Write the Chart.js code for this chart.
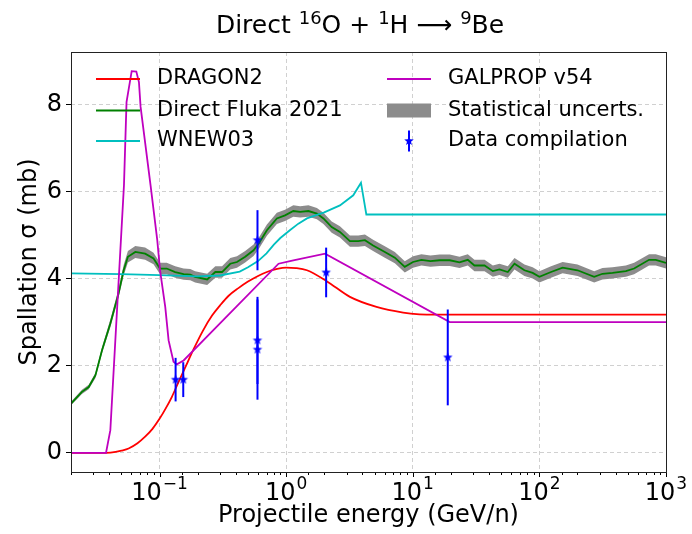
<!DOCTYPE html>
<html>
<head>
<meta charset="utf-8">
<script src="https://cdn.jsdelivr.net/npm/chart.js@4.4.0/dist/chart.umd.min.js"></script>
<style>
  body { margin: 0; background: #fff; }
  #contenedor { position: relative; width: 692px; height: 534px; }
  #titulo {
    position: absolute; left: 0; top: 12px; width: 720px;
    text-align: center; font: 25px 'DejaVu Sans', sans-serif; line-height: 25px; color: #000;
  }
  #titulo sup { font-size: 72%; vertical-align: baseline; position: relative; top: -0.5em; }
</style>
</head>
<body>
<div id="contenedor">
  <canvas id="grafico" width="692" height="534"></canvas>
  <div id="titulo">Direct <sup>16</sup>O + <sup>1</sup>H ⟶ <sup>9</sup>Be</div>
</div>
<script>
// ============================================================
//  Sección eficaz de espalación  16O + 1H -> 9Be
// ============================================================

// ──────────────────────────────────────────
//  DATOS
// ──────────────────────────────────────────
const energiaFluka = [0.02, 0.0244, 0.0276, 0.0312, 0.0352, 0.0409, 0.0475, 0.0521, 0.0563, 0.0644,
  0.077, 0.0897, 0.101, 0.114, 0.133, 0.155, 0.175, 0.191, 0.238, 0.276,
  0.312, 0.362, 0.409, 0.475, 0.553, 0.606, 0.705, 0.845, 0.98, 1.14,
  1.29, 1.5, 1.75, 1.97, 2.29, 2.66, 3.19, 3.71, 4.19, 4.86,
  6.02, 7.22, 8.65, 10.05, 11.7, 13.8, 16.3, 19.6, 23.4, 27.2,
  30.7, 36.9, 42.9, 48.4, 56.3, 63.6, 76.2, 88.5, 100, 123.6,
  152.6, 200, 271, 315, 378, 482, 560, 735, 830, 1000];
const sigmaFluka = [1.13, 1.40, 1.51, 1.78, 2.36, 2.97, 3.66, 4.19, 4.50, 4.61,
  4.57, 4.46, 4.23, 4.23, 4.15, 4.10, 4.09, 4.04, 3.98, 4.15,
  4.15, 4.34, 4.38, 4.50, 4.65, 4.80, 5.11, 5.38, 5.45, 5.55,
  5.53, 5.55, 5.49, 5.38, 5.18, 5.07, 4.86, 4.86, 4.88, 4.76,
  4.61, 4.48, 4.27, 4.38, 4.43, 4.40, 4.42, 4.42, 4.37, 4.43,
  4.30, 4.30, 4.17, 4.21, 4.15, 4.34, 4.19, 4.13, 4.04, 4.15,
  4.25, 4.19, 4.04, 4.11, 4.13, 4.17, 4.23, 4.43, 4.43, 4.36];
const errFluka = [0.04, 0.05, 0.05, 0.06, 0.07, 0.09, 0.10, 0.12, 0.13, 0.14,
  0.14, 0.13, 0.13, 0.13, 0.13, 0.13, 0.13, 0.13, 0.13, 0.13,
  0.13, 0.13, 0.13, 0.13, 0.13, 0.13, 0.13, 0.13, 0.13, 0.13,
  0.13, 0.13, 0.13, 0.13, 0.13, 0.13, 0.13, 0.13, 0.13, 0.13,
  0.13, 0.13, 0.13, 0.13, 0.13, 0.13, 0.13, 0.13, 0.13, 0.13,
  0.13, 0.13, 0.13, 0.13, 0.13, 0.13, 0.13, 0.13, 0.13, 0.13,
  0.13, 0.13, 0.13, 0.13, 0.13, 0.13, 0.13, 0.13, 0.13, 0.13];

const energiaWnew = [0.02, 0.05, 0.1, 0.2, 0.3, 0.43, 0.5, 0.6, 0.7, 0.8, 0.9, 1.07, 1.25, 1.46, 1.75, 2.0, 2.66, 3.39, 3.9, 4.3, 1000];
const sigmaWnew   = [4.12, 4.10, 4.08, 4.05, 4.07, 4.16, 4.26, 4.40, 4.58, 4.78, 4.93, 5.11, 5.26, 5.38, 5.46, 5.52, 5.68, 5.91, 6.20, 5.47, 5.47];

const energiaDragon = [0.02, 0.038, 0.045, 0.05, 0.057, 0.067, 0.077, 0.088, 0.1, 0.112, 0.125, 0.14, 0.159, 0.186, 0.22,
  0.26, 0.3, 0.35, 0.42, 0.5, 0.6, 0.705, 0.85, 1.0, 1.2, 1.46, 2.09, 3.19, 5.17, 8.4, 11.3, 15, 1000];
const sigmaDragon   = [0, 0, 0.02, 0.05, 0.10, 0.22, 0.37, 0.55, 0.78, 1.02, 1.28, 1.6, 1.95, 2.38, 2.8,
  3.15, 3.38, 3.6, 3.78, 3.93, 4.06, 4.15, 4.22, 4.25, 4.24, 4.19, 3.94, 3.58, 3.35, 3.22, 3.18, 3.17, 3.17];

const energiaGalprop = [0.02, 0.0378, 0.0409, 0.0524, 0.0549, 0.0603, 0.0656, 0.0688, 0.0709, 0.085, 0.096, 0.101,
  0.111, 0.118, 0.129, 0.137, 0.155, 0.871, 1.14, 2.03, 19.6, 1000];
const sigmaGalprop   = [0, 0, 0.52, 6.14, 8.05, 8.76, 8.75, 8.51, 7.94, 6.14, 4.88, 4.19,
  3.35, 2.58, 2.09, 2.03, 2.12, 4.34, 4.42, 4.57, 3.00, 3.00];

const energiaDatos = [0.134, 0.154, 0.594, 0.594, 0.594, 2.07, 18.9];
const sigmaDatos   = [1.68, 1.68, 4.88, 2.58, 2.37, 4.14, 2.19];
const errDatos     = [0.50, 0.40, 0.69, 1.00, 1.15, 0.57, 1.10];

const decadasX    = [0.1, 1, 10, 100, 1000];
const exponentesX = ['−1', '0', '1', '2', '3'];

// ──────────────────────────────────────────
//  PALETA (colores de matplotlib)
// ──────────────────────────────────────────
const ROJO    = '#ff0000';
const VERDE   = '#008000';
const CIAN    = '#00bfbf';
const MAGENTA = '#bf00bf';
const AZUL    = '#0000ff';
const GRIS    = '#8c8c8c';
const REJILLA = '#d0d0d0';
const FUENTE  = "'DejaVu Sans', sans-serif";

// HELPER: arrays -> puntos {x, y}
function puntos(xs, ys) {
  return xs.map((x, i) => ({ x, y: ys[i] }));
}

// HELPER: estrella rellena para usar como pointStyle
function estrella(r, color) {
  const c = document.createElement('canvas');
  const s = Math.ceil(r * 2 + 2);
  c.width = c.height = s;
  const g = c.getContext('2d');
  g.fillStyle = color;
  g.beginPath();
  for (let i = 0; i < 10; i++) {
    const rad = i % 2 ? r * 0.42 : r;
    const a = -Math.PI / 2 + i * Math.PI / 5;
    g.lineTo(s / 2 + rad * Math.cos(a), s / 2 + rad * Math.sin(a));
  }
  g.closePath();
  g.fill();
  return c;
}

const STAR = estrella(5, AZUL);

// ──────────────────────────────────────────
//  DATASETS (índice 0 se dibuja encima)
// ──────────────────────────────────────────
const linea = (label, data, color, extra) => Object.assign({
  label, data, borderColor: color, backgroundColor: color,
  borderWidth: 1.8, pointRadius: 0, fill: false, tension: 0
}, extra || {});

const barrasError = energiaDatos.map((e, i) => linea('_err' + i, [
  { x: e, y: sigmaDatos[i] - errDatos[i] },
  { x: e, y: sigmaDatos[i] + errDatos[i] }
], AZUL, { borderWidth: 2 }));

const datasets = [
  { label: 'Data compilation', data: puntos(energiaDatos, sigmaDatos), showLine: false,
    pointStyle: STAR, pointRadius: 5, borderColor: AZUL, backgroundColor: AZUL },
  ...barrasError,
  linea('GALPROP v54', puntos(energiaGalprop, sigmaGalprop), MAGENTA),
  linea('WNEW03', puntos(energiaWnew, sigmaWnew), CIAN),
  linea('Direct Fluka 2021', puntos(energiaFluka, sigmaFluka), VERDE),
  linea('DRAGON2', puntos(energiaDragon, sigmaDragon), ROJO, { cubicInterpolationMode: 'monotone' }),
  linea('_bandaSup', energiaFluka.map((x, i) => ({ x, y: sigmaFluka[i] + errFluka[i] })), GRIS,
    { borderWidth: 0, fill: '+1', backgroundColor: GRIS }),
  linea('_bandaInf', energiaFluka.map((x, i) => ({ x, y: sigmaFluka[i] - errFluka[i] })), GRIS,
    { borderWidth: 0 })
];

// ──────────────────────────────────────────
//  PLUGIN: marco, ticks del eje x y leyenda
// ──────────────────────────────────────────
const decorado = {
  id: 'decorado',
  afterDraw(chart) {
    const { ctx, chartArea: a, scales } = chart;
    ctx.save();

    // ticks del eje x (mayores 5px, menores 3px)
    ctx.strokeStyle = '#000';
    ctx.lineWidth = 1;
    scales.x.ticks.forEach(t => {
      const px = Math.round(scales.x.getPixelForValue(t.value)) + 0.5;
      ctx.beginPath();
      ctx.moveTo(px, a.bottom);
      ctx.lineTo(px, a.bottom + (t.major ? 5 : 3));
      ctx.stroke();
    });

    // etiquetas 10^n con exponente en superíndice
    ctx.fillStyle = '#000';
    ctx.textAlign = 'left';
    ctx.textBaseline = 'alphabetic';
    decadasX.forEach((d, i) => {
      const px = scales.x.getPixelForValue(d);
      ctx.font = '24px ' + FUENTE;
      const w1 = ctx.measureText('10').width;
      ctx.font = '17px ' + FUENTE;
      const w2 = ctx.measureText(exponentesX[i]).width;
      const x0 = px - (w1 + w2 + 1) / 2;
      ctx.font = '24px ' + FUENTE;
      ctx.fillText('10', x0, a.bottom + 28);
      ctx.font = '17px ' + FUENTE;
      ctx.fillText(exponentesX[i], x0 + w1 + 1, a.bottom + 17);
    });

    // marco
    ctx.strokeStyle = '#222';
    ctx.lineWidth = 1;
    ctx.strokeRect(Math.round(a.left) + 0.5, Math.round(a.top) + 0.5,
      Math.round(a.right - a.left), Math.round(a.bottom - a.top));

    // leyenda en dos columnas
    ctx.font = '21px ' + FUENTE;
    ctx.fillStyle = '#000';
    ctx.textBaseline = 'middle';
    const col1 = a.left + 25, col2 = a.left + 316;
    const filas = [a.top + 27, a.top + 58.5, a.top + 89];
    const izq = [['DRAGON2', ROJO], ['Direct Fluka 2021', VERDE], ['WNEW03', CIAN]];
    izq.forEach(([txt, col], i) => {
      ctx.strokeStyle = col;
      ctx.lineWidth = 1.8;
      ctx.beginPath();
      ctx.moveTo(col1, filas[i]);
      ctx.lineTo(col1 + 44, filas[i]);
      ctx.stroke();
      ctx.fillText(txt, col1 + 61, filas[i]);
    });

    // GALPROP
    ctx.strokeStyle = MAGENTA;
    ctx.beginPath();
    ctx.moveTo(col2, filas[0]);
    ctx.lineTo(col2 + 44, filas[0]);
    ctx.stroke();
    ctx.fillText('GALPROP v54', col2 + 61, filas[0]);

    // banda estadística
    ctx.fillStyle = GRIS;
    ctx.fillRect(col2, filas[1] - 7, 44, 14);
    ctx.fillStyle = '#000';
    ctx.fillText('Statistical uncerts.', col2 + 61, filas[1]);

    // barra de error
    ctx.strokeStyle = AZUL;
    ctx.lineWidth = 2;
    ctx.beginPath();
    ctx.moveTo(col2 + 22, filas[2] - 10.5);
    ctx.lineTo(col2 + 22, filas[2] + 10.5);
    ctx.stroke();
    ctx.drawImage(STAR, col2 + 22 - STAR.width / 2, filas[2] - STAR.height / 2);
    ctx.fillText('Data compilation', col2 + 61, filas[2]);

    ctx.restore();
  }
};

// ──────────────────────────────────────────
//  GRÁFICO
// ──────────────────────────────────────────
new Chart(document.getElementById('grafico'), {
  type: 'line',
  data: { datasets },
  options: {
    responsive: false,
    animation: false,
    layout: { padding: { top: 52, right: 26, left: 0, bottom: 0 } },
    plugins: {
      legend: { display: false },
      tooltip: { enabled: false },
      title: { display: false }
    },
    scales: {
      x: {
        type: 'logarithmic',
        min: 0.02,
        max: 1000,
        afterFit: s => { s.height = 62; },
        grid: {
          color: c => (c.tick && c.tick.major ? REJILLA : 'rgba(0,0,0,0)'),
          lineWidth: 1,
          tickLength: 5,
          tickColor: 'rgba(0,0,0,0)'
        },
        border: { display: false, dash: [4, 3] },
        ticks: {
          autoSkip: false,
          maxRotation: 0,
          padding: 1,
          font: { family: FUENTE, size: 24 },
          callback: () => ''
        },
        title: {
          display: true,
          text: 'Projectile energy (GeV/n)',
          color: '#000',
          font: { family: FUENTE, size: 24 },
          padding: { top: 0, bottom: 4 }
        }
      },
      y: {
        type: 'linear',
        min: -0.44,
        max: 9.2,
        afterFit: s => { s.width = 71; },
        grid: { color: REJILLA, lineWidth: 1, tickLength: 5, tickColor: '#000' },
        border: { display: false, dash: [4, 3] },
        ticks: {
          stepSize: 2,
          includeBounds: false,
          padding: 4,
          color: '#000',
          font: { family: FUENTE, size: 24 }
        },
        title: {
          display: true,
          text: 'Spallation σ (mb)',
          color: '#000',
          font: { family: FUENTE, size: 24 },
          padding: { top: 15, bottom: 0 }
        }
      }
    }
  },
  plugins: [decorado]
});
</script>
</body>
</html>
